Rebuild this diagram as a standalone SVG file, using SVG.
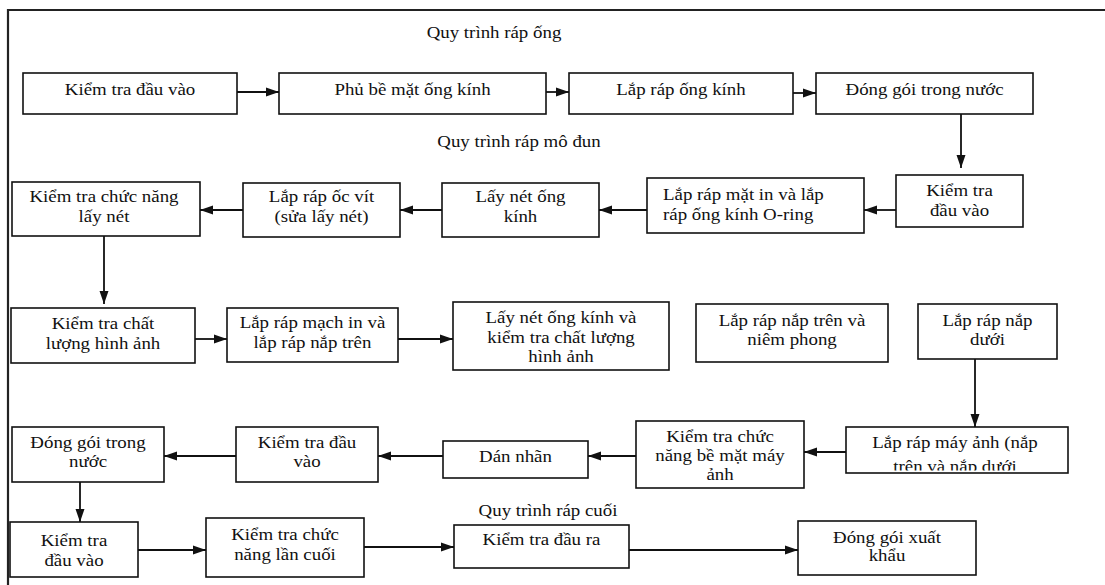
<svg xmlns="http://www.w3.org/2000/svg" width="1105" height="585" viewBox="0 0 1105 585">
  <defs>
    <style>
      .box { fill: #ffffff; stroke: #111111; stroke-width: 1.6; }
      .lbl { font-family: "Liberation Serif", "Times New Roman", serif; font-size: 16px; fill: #111111; text-anchor: middle; }
      .lft { text-anchor: start; }
      .wire { fill: none; stroke: #111111; stroke-width: 1.8; marker-end: url(#tip); }
      .frame { fill: none; stroke: #222222; stroke-width: 2.2; }
    </style>
    <marker id="tip" markerUnits="userSpaceOnUse" markerWidth="13" markerHeight="12" viewBox="0 0 13 12" refX="13" refY="6" orient="auto">
      <path d="M0,1.5 L13,6 L0,10.5 Z" fill="#111111"/>
    </marker>
    <clipPath id="cutCam">
      <rect x="846" y="427" width="222" height="43.5"/>
    </clipPath>
  </defs>

  <!-- page frame -->
  <g id="frame">
    <path class="frame" d="M8,585 L8,10 L1105,10"/>
  </g>

  <!-- section captions (text widened 1.18x like the rest of the sheet) -->
  <g id="captions">
    <text class="lbl" transform="translate(494,38) scale(1.18,1)">Quy trình ráp ống</text>
    <text class="lbl" transform="translate(519,147) scale(1.18,1)">Quy trình ráp mô đun</text>
    <text class="lbl" transform="translate(548,516) scale(1.18,1)">Quy trình ráp cuối</text>
  </g>

  <!-- connectors -->
  <g id="connectors">
    <line class="wire" x1="237" y1="92" x2="279" y2="92"/>
    <line class="wire" x1="546" y1="92" x2="569" y2="92"/>
    <line class="wire" x1="793" y1="93" x2="816" y2="93"/>
    <line class="wire" x1="961" y1="114" x2="961" y2="168"/>
    <line class="wire" x1="896" y1="210" x2="864" y2="210"/>
    <line class="wire" x1="647" y1="210" x2="599" y2="210"/>
    <line class="wire" x1="442" y1="210" x2="400" y2="210"/>
    <line class="wire" x1="243" y1="210" x2="200" y2="210"/>
    <line class="wire" x1="104" y1="236" x2="104" y2="304"/>
    <line class="wire" x1="195" y1="339" x2="227" y2="339"/>
    <line class="wire" x1="398" y1="339" x2="453" y2="339"/>
    <line class="wire" x1="975" y1="359" x2="975" y2="427"/>
    <line class="wire" x1="846" y1="452" x2="804" y2="452"/>
    <line class="wire" x1="636" y1="456" x2="588" y2="456"/>
    <line class="wire" x1="443" y1="456" x2="378" y2="456"/>
    <line class="wire" x1="236" y1="456" x2="164" y2="456"/>
    <line class="wire" x1="80" y1="482" x2="80" y2="522"/>
    <line class="wire" x1="138" y1="550" x2="206" y2="550"/>
    <line class="wire" x1="364" y1="547" x2="454" y2="547"/>
    <line class="wire" x1="629" y1="550" x2="798" y2="550"/>
  </g>

  <!-- lens line -->
  <g id="lens-input">
    <rect class="box" x="23" y="73" width="214" height="41"/>
    <text class="lbl" transform="translate(130,95) scale(1.18,1)">Kiểm tra đầu vào</text>
  </g>
  <g id="lens-coating">
    <rect class="box" x="279" y="73" width="267" height="41"/>
    <text class="lbl" transform="translate(412.5,95) scale(1.18,1)">Phủ bề mặt ống kính</text>
  </g>
  <g id="lens-assembly">
    <rect class="box" x="569" y="73" width="224" height="41"/>
    <text class="lbl" transform="translate(681,95) scale(1.18,1)">Lắp ráp ống kính</text>
  </g>
  <g id="lens-packing">
    <rect class="box" x="816" y="73" width="217" height="41"/>
    <text class="lbl" transform="translate(924.5,95) scale(1.18,1)">Đóng gói trong nước</text>
  </g>

  <!-- module line -->
  <g id="module-input">
    <rect class="box" x="896" y="175" width="127" height="52"/>
    <text class="lbl" transform="translate(959.5,196) scale(1.18,1)">Kiểm tra</text>
    <text class="lbl" transform="translate(959.5,216) scale(1.18,1)">đầu vào</text>
  </g>
  <g id="pcb-oring">
    <rect class="box" x="647" y="178" width="217" height="55"/>
    <text class="lbl lft" transform="translate(663,200) scale(1.18,1)">Lắp ráp mặt in và lắp</text>
    <text class="lbl lft" transform="translate(663,220) scale(1.18,1)">ráp ống kính O-ring</text>
  </g>
  <g id="lens-focus">
    <rect class="box" x="442" y="183" width="157" height="54"/>
    <text class="lbl" transform="translate(520.5,202) scale(1.18,1)">Lấy nét ống</text>
    <text class="lbl" transform="translate(520.5,222) scale(1.18,1)">kính</text>
  </g>
  <g id="screw-assembly">
    <rect class="box" x="243" y="183" width="157" height="54"/>
    <text class="lbl" transform="translate(321.5,202) scale(1.18,1)">Lắp ráp ốc vít</text>
    <text class="lbl" transform="translate(321.5,222) scale(1.18,1)">(sửa lấy nét)</text>
  </g>
  <g id="focus-check">
    <rect class="box" x="12" y="182" width="188" height="54"/>
    <text class="lbl" transform="translate(104,202) scale(1.18,1)">Kiểm tra chức năng</text>
    <text class="lbl" transform="translate(104,222) scale(1.18,1)">lấy nét</text>
  </g>
  <g id="image-check">
    <rect class="box" x="11" y="308" width="184" height="55"/>
    <text class="lbl" transform="translate(103,329) scale(1.18,1)">Kiểm tra chất</text>
    <text class="lbl" transform="translate(103,349) scale(1.18,1)">lượng hình ảnh</text>
  </g>
  <g id="board-cover">
    <rect class="box" x="227" y="308" width="171" height="54"/>
    <text class="lbl" transform="translate(312.5,328) scale(1.18,1)">Lắp ráp mạch in và</text>
    <text class="lbl" transform="translate(312.5,348) scale(1.18,1)">lắp ráp nắp trên</text>
  </g>
  <g id="focus-image-check">
    <rect class="box" x="453" y="302" width="216" height="68"/>
    <text class="lbl" transform="translate(561,323) scale(1.18,1)">Lấy nét ống kính và</text>
    <text class="lbl" transform="translate(561,343) scale(1.18,1)">kiểm tra chất lượng</text>
    <text class="lbl" transform="translate(561,362) scale(1.18,1)">hình ảnh</text>
  </g>
  <g id="top-cover-seal">
    <rect class="box" x="696" y="304" width="192" height="58"/>
    <text class="lbl" transform="translate(792,326) scale(1.18,1)">Lắp ráp nắp trên và</text>
    <text class="lbl" transform="translate(792,345) scale(1.18,1)">niêm phong</text>
  </g>
  <g id="bottom-cover">
    <rect class="box" x="918" y="304" width="139" height="55"/>
    <text class="lbl" transform="translate(987.5,326) scale(1.18,1)">Lắp ráp nắp</text>
    <text class="lbl" transform="translate(987.5,345) scale(1.18,1)">dưới</text>
  </g>
  <g id="camera-assembly">
    <rect class="box" x="846" y="427" width="222" height="46"/>
    <g clip-path="url(#cutCam)">
      <text class="lbl" transform="translate(955,448) scale(1.18,1)">Lắp ráp máy ảnh (nắp</text>
      <text class="lbl" transform="translate(955,472) scale(1.18,1)">trên và nắp dưới</text>
    </g>
  </g>
  <g id="surface-check">
    <rect class="box" x="636" y="421" width="168" height="67"/>
    <text class="lbl" transform="translate(720,442) scale(1.18,1)">Kiểm tra chức</text>
    <text class="lbl" transform="translate(720,461) scale(1.18,1)">năng bề mặt máy</text>
    <text class="lbl" transform="translate(720,480) scale(1.18,1)">ảnh</text>
  </g>
  <g id="labeling">
    <rect class="box" x="443" y="441" width="145" height="37"/>
    <text class="lbl" transform="translate(515.5,462) scale(1.18,1)">Dán nhãn</text>
  </g>
  <g id="module-check">
    <rect class="box" x="236" y="427" width="142" height="55"/>
    <text class="lbl" transform="translate(307,448) scale(1.18,1)">Kiểm tra đầu</text>
    <text class="lbl" transform="translate(307,467) scale(1.18,1)">vào</text>
  </g>
  <g id="module-packing">
    <rect class="box" x="12" y="427" width="152" height="55"/>
    <text class="lbl" transform="translate(88,448) scale(1.18,1)">Đóng gói trong</text>
    <text class="lbl" transform="translate(88,467) scale(1.18,1)">nước</text>
  </g>

  <!-- final line -->
  <g id="final-input">
    <rect class="box" x="10" y="522" width="128" height="55"/>
    <text class="lbl" transform="translate(74,546) scale(1.18,1)">Kiểm tra</text>
    <text class="lbl" transform="translate(74,566) scale(1.18,1)">đầu vào</text>
  </g>
  <g id="final-function">
    <rect class="box" x="206" y="518" width="158" height="59"/>
    <text class="lbl" transform="translate(285,540) scale(1.18,1)">Kiểm tra chức</text>
    <text class="lbl" transform="translate(285,560) scale(1.18,1)">năng lần cuối</text>
  </g>
  <g id="output-check">
    <rect class="box" x="454" y="525" width="175" height="43"/>
    <text class="lbl" transform="translate(541.5,545) scale(1.18,1)">Kiểm tra đầu ra</text>
  </g>
  <g id="export-packing">
    <rect class="box" x="798" y="521" width="178" height="54"/>
    <text class="lbl" transform="translate(887,543) scale(1.18,1)">Đóng gói xuất</text>
    <text class="lbl" transform="translate(887,561) scale(1.18,1)">khẩu</text>
  </g>
</svg>
